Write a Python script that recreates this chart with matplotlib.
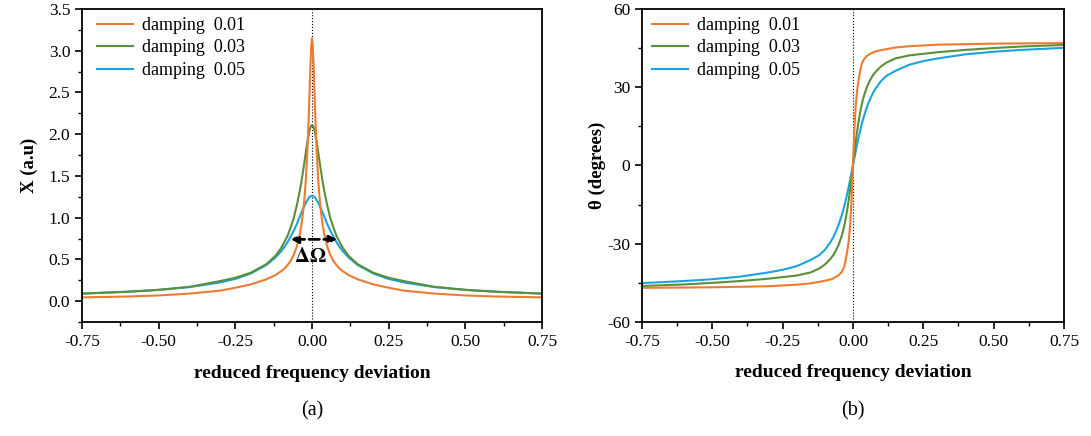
import numpy as np
import matplotlib.pyplot as plt
from matplotlib.ticker import MultipleLocator

plt.rcParams['font.family'] = ['Liberation Serif', 'DejaVu Serif']
plt.rcParams['mathtext.fontset'] = 'stix'
plt.rcParams['axes.unicode_minus'] = False

# reduced frequency deviation (shared grid for the amplitude curves)
freq_amp = [-0.75, -0.6, -0.5, -0.4, -0.3, -0.25, -0.2, -0.15, -0.12, -0.1, -0.09, -0.08,
            -0.07, -0.06, -0.05, -0.04, -0.035, -0.03, -0.025, -0.02, -0.015, -0.01,
            -0.0075, -0.005, -0.0025, 0.0,
            0.0025, 0.005, 0.0075, 0.01, 0.015, 0.02, 0.025, 0.03, 0.035, 0.04, 0.05,
            0.06, 0.07, 0.08, 0.09, 0.1, 0.12, 0.15, 0.2, 0.25, 0.3, 0.4, 0.5, 0.6, 0.75]

amp_001 = [0.045, 0.055, 0.068, 0.09, 0.125, 0.16, 0.2, 0.26, 0.31, 0.36, 0.39, 0.43,
           0.48, 0.55, 0.65, 0.80, 0.905, 1.04, 1.22, 1.46, 1.81, 2.28,
           2.56, 2.84, 3.06, 3.15,
           3.06, 2.84, 2.56, 2.28, 1.81, 1.46, 1.22, 1.04, 0.905, 0.80, 0.65,
           0.55, 0.48, 0.43, 0.39, 0.36, 0.31, 0.26, 0.2, 0.16, 0.125, 0.09, 0.068, 0.055, 0.045]

amp_003 = [0.09, 0.112, 0.135, 0.17, 0.24, 0.28, 0.34, 0.44, 0.54, 0.64, 0.71, 0.78,
           0.88, 0.99, 1.14, 1.32, 1.42, 1.54, 1.66, 1.79, 1.91, 2.01,
           2.055, 2.085, 2.10, 2.11,
           2.10, 2.085, 2.055, 2.01, 1.91, 1.79, 1.66, 1.54, 1.42, 1.32, 1.14,
           0.99, 0.88, 0.78, 0.71, 0.64, 0.54, 0.44, 0.34, 0.28, 0.24, 0.17, 0.135, 0.112, 0.09]

amp_005 = [0.09, 0.113, 0.135, 0.168, 0.223, 0.266, 0.33, 0.43, 0.52, 0.60, 0.65, 0.705,
           0.77, 0.84, 0.92, 1.01, 1.057, 1.10, 1.14, 1.18, 1.21, 1.24,
           1.25, 1.255, 1.258, 1.26,
           1.258, 1.255, 1.25, 1.24, 1.21, 1.18, 1.14, 1.10, 1.057, 1.01, 0.92,
           0.84, 0.77, 0.705, 0.65, 0.60, 0.52, 0.43, 0.33, 0.266, 0.223, 0.168, 0.135, 0.113, 0.09]

# phase curves (degrees)
freq_ph = [-0.75, -0.6, -0.5, -0.4, -0.3, -0.25, -0.2, -0.15, -0.12, -0.1, -0.08, -0.07,
           -0.06, -0.05, -0.04, -0.035, -0.03, -0.025, -0.02, -0.015, -0.01, -0.006,
           -0.003, 0.0,
           0.003, 0.006, 0.01, 0.015, 0.02, 0.025, 0.03, 0.035, 0.04, 0.05, 0.06,
           0.07, 0.08, 0.1, 0.12, 0.15, 0.2, 0.25, 0.3, 0.4, 0.5, 0.6, 0.75]

ph_001 = [-46.9, -46.8, -46.7, -46.5, -46.3, -46.0, -45.7, -45.2, -44.6, -44.2, -43.7, -43.3,
          -42.7, -42.0, -40.8, -39.8, -38.5, -35.8, -32.7, -28.9, -22.9, -15.6,
          -8.4, 0.0,
          8.4, 15.6, 22.9, 28.9, 32.7, 35.8, 38.5, 39.8, 40.8, 42.0, 42.7,
          43.3, 43.7, 44.2, 44.6, 45.2, 45.7, 46.0, 46.3, 46.5, 46.7, 46.8, 46.9]

ph_003 = [-46.2, -45.6, -45.0, -44.3, -43.4, -42.8, -42.2, -41.0, -39.5, -38.0, -35.8, -34.4,
          -32.5, -30.2, -27.0, -25.0, -22.7, -20.0, -16.8, -13.2, -9.1, -5.6,
          -2.8, 0.0,
          2.8, 5.6, 9.1, 13.2, 16.8, 20.0, 22.7, 25.0, 27.0, 30.2, 32.5,
          34.4, 35.8, 38.0, 39.5, 41.0, 42.2, 42.8, 43.4, 44.3, 45.0, 45.6, 46.2]

ph_005 = [-45.1, -44.3, -43.6, -42.6, -41.0, -40.0, -38.6, -36.2, -34.4, -32.4, -29.4, -27.5,
          -25.2, -22.5, -19.2, -17.3, -15.3, -13.0, -10.7, -8.2, -5.5, -3.3,
          -1.7, 0.0,
          1.7, 3.3, 5.5, 8.2, 10.7, 13.0, 15.3, 17.3, 19.2, 22.5, 25.2,
          27.5, 29.4, 32.4, 34.4, 36.2, 38.6, 40.0, 41.0, 42.6, 43.6, 44.3, 45.1]

labels = ['damping  0.01', 'damping  0.03', 'damping  0.05']
c_org, c_grn, c_blu = '#EE7B30', '#5B8F3C', '#1BA3DD'

fig = plt.figure(figsize=(10.91, 4.36), dpi=100)
ax1 = fig.add_axes([0.0752, 0.2615, 0.4216, 0.718])
ax2 = fig.add_axes([0.5884, 0.2615, 0.3868, 0.718])

# (a) amplitude
l3, = ax1.plot(freq_amp, amp_005, color=c_blu, lw=1.5)
l2, = ax1.plot(freq_amp, amp_003, color=c_grn, lw=1.5)
l1, = ax1.plot(freq_amp, amp_001, color=c_org, lw=1.5)
ax1.axvline(0, color='black', ls=':', lw=0.8, zorder=0)
ax1.set_xlim(-0.75, 0.75)
ax1.set_ylim(-0.25, 3.5)
ax1.yaxis.set_minor_locator(MultipleLocator(0.25))
ax1.set_yticks(np.arange(0, 3.51, 0.5))
ax1.set_ylabel('X (a.u)', fontsize=13.5, fontweight='bold', labelpad=8)
ax1.legend([l1, l2, l3], labels, loc='upper left', bbox_to_anchor=(0.015, 1.0),
           frameon=False, fontsize=13, handlelength=2.0, labelspacing=0.3,
           borderaxespad=0.05, handletextpad=0.5)
ax1.annotate('', xy=(-0.07, 0.74), xytext=(0.082, 0.74),
             arrowprops=dict(arrowstyle='<|-|>', color='black', lw=2, ls='--',
                             mutation_scale=11, shrinkA=0, shrinkB=0))
ax1.text(-0.005, 0.52, r'$\mathbf{\Delta\Omega}$', fontsize=15, ha='center', va='center')
ax1.text(0.5, -0.165, 'reduced frequency deviation', transform=ax1.transAxes,
         ha='center', va='center', fontsize=14, fontweight='bold')
ax1.text(0.5, -0.285, '(a)', transform=ax1.transAxes, ha='center', va='center', fontsize=14.5)

# (b) phase
m3, = ax2.plot(freq_ph, ph_005, color=c_blu, lw=1.5)
m2, = ax2.plot(freq_ph, ph_003, color=c_grn, lw=1.5)
m1, = ax2.plot(freq_ph, ph_001, color=c_org, lw=1.5)
ax2.axvline(0, color='black', ls=':', lw=0.8, zorder=0)
ax2.set_xlim(-0.75, 0.75)
ax2.set_ylim(-60, 60)
ax2.yaxis.set_major_locator(MultipleLocator(30))
ax2.yaxis.set_minor_locator(MultipleLocator(15))
ax2.set_ylabel('θ (degrees)', fontsize=13.5, fontweight='bold', labelpad=1)
ax2.legend([m1, m2, m3], labels, loc='upper left', bbox_to_anchor=(0.005, 1.0),
           frameon=False, fontsize=13, handlelength=2.0, labelspacing=0.3,
           borderaxespad=0.05, handletextpad=0.5)
ax2.text(0.5, -0.16, 'reduced frequency deviation', transform=ax2.transAxes,
         ha='center', va='center', fontsize=14, fontweight='bold')
ax2.text(0.5, -0.285, '(b)', transform=ax2.transAxes, ha='center', va='center', fontsize=14.5)

for ax in (ax1, ax2):
    ax.xaxis.set_major_locator(MultipleLocator(0.25))
    ax.xaxis.set_minor_locator(MultipleLocator(0.125))
    ax.xaxis.set_major_formatter(plt.FormatStrFormatter('%.2f'))
    ax.tick_params(which='both', direction='out', top=False, right=False, labelsize=12.5)
    ax.tick_params(which='major', length=5, width=1.2)
    ax.tick_params(which='minor', length=3, width=1.0)
    for s in ax.spines.values():
        s.set_linewidth(1.3)
ax1.yaxis.set_major_formatter(plt.FormatStrFormatter('%.1f'))

plt.savefig('out.png', dpi=100)
